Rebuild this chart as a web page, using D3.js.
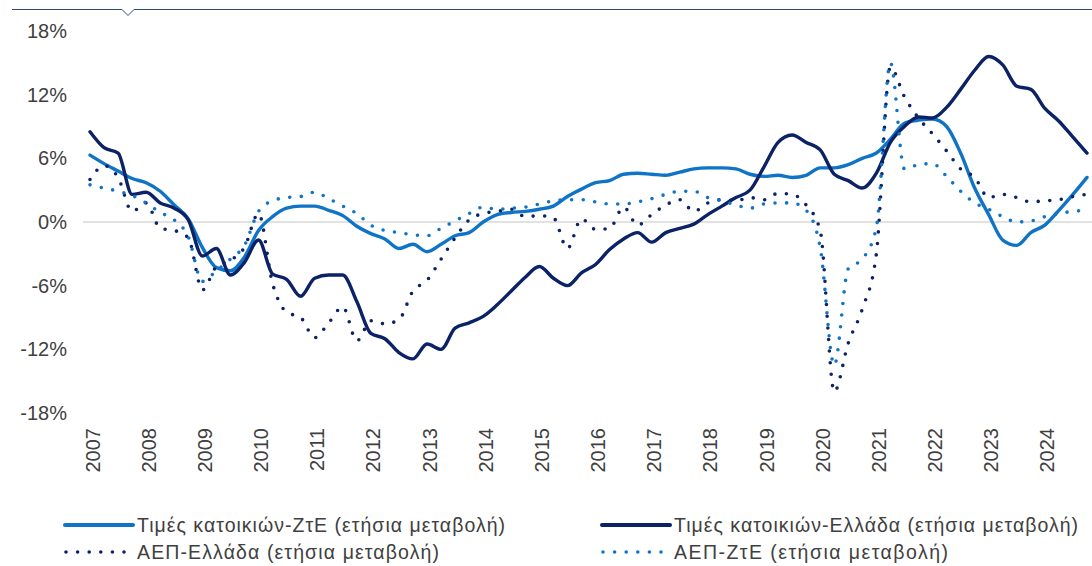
<!DOCTYPE html>
<html>
<head>
<meta charset="utf-8">
<script src="https://cdn.jsdelivr.net/npm/d3@7"></script>
<style>
  body { margin: 0; background: #fff; }
  svg { display: block; font-family: "Liberation Sans", Arial, sans-serif; }
  .tick text { fill: #404040; }
</style>
</head>
<body>
<svg id="chart"></svg>
<script>
// quarterly data, 2007Q1 .. 2024Q4 (y/y % change)
var years = [2007, 2008, 2009, 2010, 2011, 2012, 2013, 2014, 2015, 2016, 2017, 2018, 2019, 2020, 2021, 2022, 2023, 2024];
var yTicks = [-18, -12, -6, 0, 6, 12, 18];

// house prices - euro area
var housesEZ = [6.3, 5.5, 4.8, 4.1, 3.7, 2.9, 1.6, 0.3, -2.4, -4.3, -4.6, -3.3,
  -0.8, 0.5, 1.3, 1.5, 1.5, 1.1, 0.6, -0.4, -1.1, -1.6, -2.5, -2.1,
  -2.8, -2.1, -1.3, -1.0, 0.0, 0.7, 0.9, 1.0, 1.2, 1.5, 2.4, 3.1,
  3.7, 3.9, 4.5, 4.6, 4.5, 4.4, 4.7, 5.0, 5.1, 5.1, 5.0, 4.5,
  4.3, 4.4, 4.2, 4.4, 5.1, 5.1, 5.4, 6.0, 6.5, 7.8, 9.3, 9.6,
  9.7, 9.0, 6.5, 3.2, 0.7, -1.7, -2.2, -1.0, -0.3, 1.1, 2.6, 4.2];

// house prices - Greece
var housesGR = [8.5, 7.0, 6.5, 2.6, 2.8, 1.8, 1.3, 0.2, -3.2, -2.5, -5.0, -3.8,
  -1.7, -4.9, -5.4, -7.0, -5.3, -5.0, -5.0, -7.5, -10.5, -11.0, -12.3, -12.9,
  -11.5, -12.0, -10.0, -9.5, -8.9, -7.8, -6.5, -5.2, -4.2, -5.3, -6.0, -4.8,
  -4.0, -2.6, -1.6, -1.0, -1.9, -1.0, -0.6, -0.2, 0.7, 1.5, 2.3, 3.0,
  5.2, 7.5, 8.2, 7.5, 6.8, 4.5, 3.9, 3.2, 4.6, 7.5, 9.0, 9.9,
  9.8, 10.8, 12.5, 14.3, 15.6, 14.8, 12.8, 12.5, 10.7, 9.5, 8.0, 6.5];

// GDP - Greece
var gdpGR = [4.0, 5.3, 4.2, 1.0, 1.8, -0.6, -0.8, -1.5, -6.4, -4.2, -3.6, -2.4,
  0.8, -5.8, -8.5, -9.0, -10.9, -9.5, -8.0, -11.2, -9.3, -9.6, -9.2, -6.5,
  -5.5, -3.5, -1.5, 0.2, 0.8, 1.0, 1.2, 0.5, 0.6, 0.4, -2.5, 0.3,
  -0.7, -0.6, 1.4, -0.3, 0.7, 1.6, 2.1, 1.0, 1.8, 2.1, 2.0, 2.3,
  2.1, 2.7, 2.6, 1.6, -0.8, -16.0, -11.4, -8.2, -3.0, 14.6, 11.8, 9.8,
  8.3, 6.7, 5.0, 4.2, 2.3, 2.6, 2.3, 1.9, 2.0, 2.1, 2.4, 2.6];

// GDP - euro area
var gdpEZ = [3.5, 3.2, 2.9, 2.5, 1.8, 0.9, 0.2, -1.4, -5.6, -4.6, -3.5, -2.2,
  1.0, 2.0, 2.3, 2.4, 2.8, 2.2, 1.5, 0.8, -0.3, -0.8, -1.0, -1.2,
  -1.3, -0.6, 0.1, 0.8, 1.4, 1.2, 1.3, 1.4, 1.7, 2.0, 2.1, 2.1,
  1.9, 1.7, 1.7, 1.9, 2.2, 2.6, 2.9, 2.9, 2.3, 2.0, 1.6, 1.3,
  1.7, 1.8, 1.8, 1.1, -2.4, -13.5, -4.4, -3.5, -0.5, 15.0, 5.0, 5.4,
  5.5, 4.3, 2.9, 1.8, 1.2, 0.5, 0.0, 0.1, 0.5, 0.8, 1.0, 1.1];

var legendNames = ["Τιμές κατοικιών-ΖτΕ (ετήσια μεταβολή)",
  "Τιμές κατοικιών-Ελλάδα (ετήσια μεταβολή)",
  "ΑΕΠ-Ελλάδα (ετήσια μεταβολή)",
  "ΑΕΠ-ΖτΕ  (ετήσια μεταβολή)"];

var navy = "#0b2266", blue = "#0f74c6";

var W = 1092, H = 566;
var svg = d3.select("#chart").attr("width", W).attr("height", H);

// top border with little notch
svg.append("path")
   .attr("d", "M12,9.5 H122 L128,15.5 L134,9.5 H1092")
   .attr("fill", "none").attr("stroke", "#2b4a7a").attr("stroke-width", 1);

var quarters = [];
years.forEach(function(y) { ["Q1", "Q2", "Q3", "Q4"].forEach(function(q) { quarters.push(y + q); }); });

var x = d3.scalePoint().domain(quarters).range([90, 1087]);
var y = d3.scaleLinear().domain([-18, 18]).range([413, 31]);

// zero line
svg.append("line")
   .attr("x1", 83).attr("x2", W)
   .attr("y1", y(0)).attr("y2", y(0))
   .attr("stroke", "#d9d9d9").attr("stroke-width", 1.5);

var yAxis = d3.axisLeft(y).tickValues(yTicks).tickSize(0).tickPadding(0)
              .tickFormat(function(d) { return d + "%"; });
svg.append("g").attr("transform", "translate(67,0)").call(yAxis)
   .call(function(g) { g.select(".domain").remove(); })
   .selectAll("text").attr("font-size", 20).attr("font-family", "Liberation Sans, Arial, sans-serif");

var xAxis = d3.axisBottom(x).tickValues(years.map(function(d) { return d + "Q1"; }))
              .tickSize(0).tickFormat(function(d) { return d.slice(0, 4); });
svg.append("g").attr("transform", "translate(2,428)").call(xAxis)
   .call(function(g) { g.select(".domain").remove(); })
   .selectAll("text")
   .attr("font-size", 20).attr("font-family", "Liberation Sans, Arial, sans-serif")
   .attr("text-anchor", "end").attr("dy", "0.35em").attr("y", 0)
   .attr("transform", "rotate(-90)");

var series = [
  {values: housesEZ, color: blue, dotted: false},
  {values: housesGR, color: navy, dotted: false},
  {values: gdpGR, color: navy, dotted: true},
  {values: gdpEZ, color: blue, dotted: true}
];

// smoothed lines, like the spreadsheet original
var line = d3.line()
             .curve(d3.curveMonotoneX)
             .x(function(d, i) { return x(quarters[i]); })
             .y(function(d) { return y(d); });

svg.append("g").selectAll("path")
   .data(series)
   .enter()
   .append("path")
   .attr("d", function(s) { return line(s.values); })
   .attr("fill", "none")
   .attr("stroke", function(s) { return s.color; })
   .attr("stroke-width", function(s) { return s.dotted ? 3.6 : 3.4; })
   .attr("stroke-linecap", "round")
   .attr("stroke-linejoin", "round")
   .attr("stroke-dasharray", function(s) { return s.dotted ? "0 11.6" : null; });

// legend
var legendPos = [{x: 65, y: 525}, {x: 602, y: 525}, {x: 65, y: 552}, {x: 602, y: 552}];
var legendWidth = [368, 404, 302, 274];
var leg = svg.append("g").selectAll("g")
             .data(series)
             .enter()
             .append("g")
             .attr("transform", function(s, i) { return "translate(" + legendPos[i].x + "," + legendPos[i].y + ")"; });

leg.append("line")
   .attr("x1", function(s) { return s.dotted ? 1 : 0; })
   .attr("x2", function(s) { return s.dotted ? 60 : 68; })
   .attr("stroke", function(s) { return s.color; })
   .attr("stroke-width", function(s) { return s.dotted ? 3.6 : 4; })
   .attr("stroke-linecap", "round")
   .attr("stroke-dasharray", function(s) { return s.dotted ? "0 11.6" : null; });

leg.append("text")
   .attr("x", function(s) { return s.dotted ? 72 : 72; })
   .attr("dy", "0.35em")
   .attr("font-size", 19.5)
   .attr("fill", "#404040")
   .attr("textLength", function(s, i) { return legendWidth[i]; })
   .attr("lengthAdjust", "spacing")
   .text(function(s, i) { return legendNames[i]; });
</script>
</body>
</html>
